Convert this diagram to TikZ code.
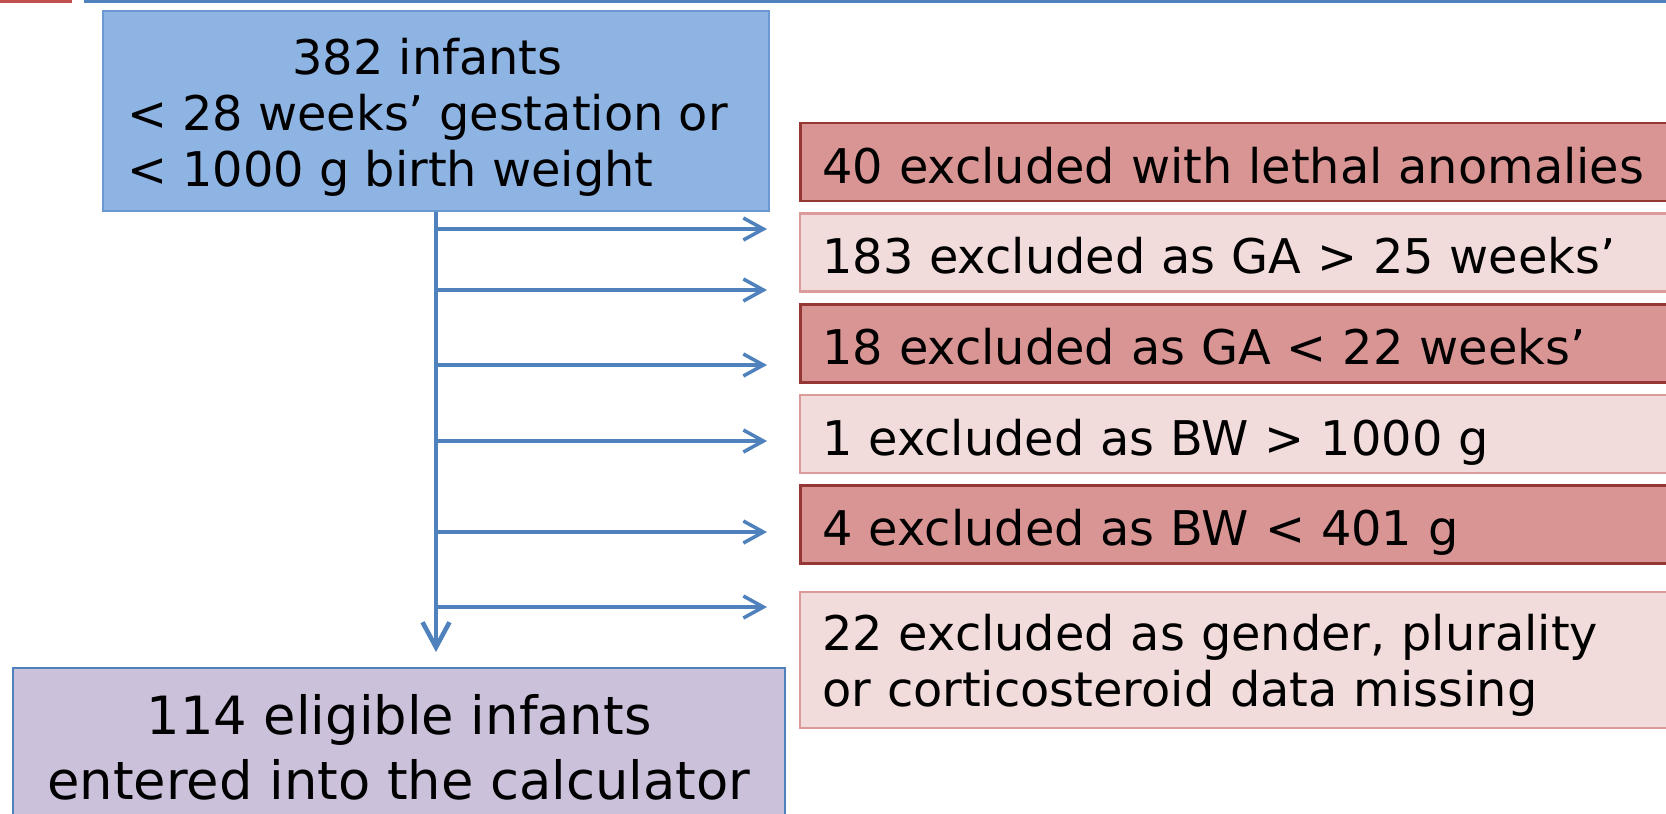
\documentclass[tikz,border=0pt]{standalone}
\usepackage{fontspec}
\setmainfont{DejaVu Sans}
\usetikzlibrary{arrows.meta}
\definecolor{BarRed}{HTML}{C0504D}
\definecolor{LineBlue}{HTML}{4F81BD}
\definecolor{PopFill}{HTML}{8EB4E3}
\definecolor{PopEdge}{HTML}{6A98D0}
\definecolor{ExclDark}{HTML}{D99594}
\definecolor{ExclDarkEdge}{HTML}{953735}
\definecolor{ExclLight}{HTML}{F2DCDB}
\definecolor{ExclLightEdge}{HTML}{DA9B9A}
\definecolor{EligFill}{HTML}{CCC1DA}
\tikzset{
  popbox/.style={draw=PopEdge, line width=0.6pt, fill=PopFill, minimum width=6.66cm, minimum height=2.0cm, inner sep=0pt, font=\fontsize{13.6}{15.9}\selectfont},
  exbox/.style={anchor=west, minimum height=0.78cm, text width=8.47cm, inner xsep=0.22cm, inner ysep=0pt, align=left, font=\fontsize{13.6}{15.9}\selectfont},
  exline/.style={text height=12pt, text depth=0pt},
  exdark/.style={exbox, exline, draw=ExclDarkEdge, line width=0.8pt, fill=ExclDark},
  exlight/.style={exbox, exline, draw=ExclLightEdge, line width=0.7pt, fill=ExclLight},
  eligbox/.style={draw=LineBlue, line width=0.6pt, fill=EligFill, minimum width=7.72cm, minimum height=1.58cm, align=center, font=\fontsize{15}{18.4}\selectfont},
  trunk/.style={-{Straight Barb[length=2.5mm, width=2.7mm, line width=1.3pt]}, line width=1.3pt, draw=LineBlue},
  branch/.style={-{Straight Barb[length=2mm, width=2.2mm, line width=1pt]}, line width=1pt, draw=LineBlue},
}
\begin{document}
\begin{tikzpicture}
  \clip (0,0) rectangle (16.66,-8.13);
  % header rule
  \fill[BarRed] (0,0) rectangle (0.72,-0.03);
  \fill[LineBlue] (0.84,0) rectangle (16.66,-0.03);
  % population and exclusions
  \node[popbox] (pop) at (4.36,-1.11) {\begin{tabular}{@{}l@{\hspace{0.17cm}}}\multicolumn{1}{@{}c@{\hspace{0.17cm}}}{\rule{0pt}{15.9pt}382 infants}\\< 28 weeks’ gestation or\\< 1000 g birth weight\end{tabular}};
  \node[exdark] (lethal) at (7.99,-1.62) {40 excluded with lethal anomalies};
  \node[exlight] (gahigh) at (7.99,-2.525) {183 excluded as GA > 25 weeks’};
  \node[exdark] (galow) at (7.99,-3.435) {18 excluded as GA < 22 weeks’};
  \node[exlight] (bwhigh) at (7.99,-4.34) {1 excluded as BW > 1000 g};
  \node[exdark] (bwlow) at (7.99,-5.245) {4 excluded as BW < 401 g};
  \node[exbox, draw=ExclLightEdge, line width=0.7pt, fill=ExclLight, text depth=15.5pt, minimum height=1.36cm] (missing) at (7.99,-6.60) {22 excluded as gender, plurality\\or corticosteroid data missing};
  \node[eligbox] (elig) at (3.99,-7.47) {114 eligible infants\\entered into the calculator};
  % arrows
  \coordinate (tip) at (4.36,-6.52);
  \draw[trunk] (pop.south) -- (tip);
  \foreach \y [count=\i] in {2.29,2.90,3.65,4.41,5.32,6.07} {
    \coordinate (out\i) at (7.67,-\y);
    \draw[branch] (pop.south |- out\i) -- (out\i);
  }
\end{tikzpicture}
\end{document}
